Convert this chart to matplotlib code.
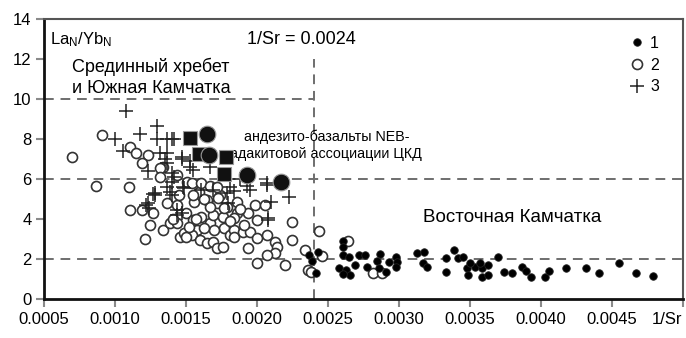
import matplotlib
matplotlib.use("Agg")
import matplotlib.pyplot as plt
from matplotlib.lines import Line2D

plt.rcParams['font.family'] = ['Liberation Sans', 'DejaVu Sans']
plt.rcParams['mathtext.fontset'] = 'custom'
plt.rcParams['mathtext.rm'] = 'Liberation Sans'
plt.rcParams['mathtext.it'] = 'Liberation Sans'

# 1 - Восточная Камчатка (мелкие залитые кружки)
g1_x = [0.00237, 0.00243, 0.00242, 0.00239, 0.00261, 0.00261, 0.00261, 0.00265, 0.00272,
        0.00276, 0.00269, 0.00258, 0.00263, 0.00266, 0.00261, 0.00278, 0.00287, 0.00285,
        0.00286, 0.00293, 0.00298, 0.00299, 0.00298, 0.00291, 0.00313, 0.00318, 0.00317,
        0.00320, 0.00333, 0.00333, 0.00339, 0.00342, 0.00345, 0.00348, 0.00349, 0.00354,
        0.00359, 0.00363, 0.00359, 0.00363, 0.00370, 0.00350, 0.00357, 0.00374, 0.00380,
        0.00387, 0.00390, 0.00393, 0.00403, 0.00406, 0.00418, 0.00432, 0.00441, 0.00455,
        0.00467, 0.00479]
g1_y = [2.2, 2.35, 1.3, 1.9, 2.9, 2.6, 2.2, 2.1, 2.2,
        2.2, 1.7, 1.55, 1.45, 1.2, 1.25, 1.6, 2.25, 1.9,
        1.55, 1.85, 2.1, 1.85, 1.6, 1.35, 2.3, 2.35, 1.8,
        1.6, 2.05, 1.35, 2.45, 2.05, 2.1, 1.55, 1.2, 1.6,
        1.55, 1.7, 1.1, 1.2, 2.1, 1.8, 1.8, 1.35, 1.3,
        1.6, 1.4, 1.1, 1.1, 1.4, 1.55, 1.55, 1.3, 1.8,
        1.3, 1.15]

# 2 - Срединный хребет (открытые кружки)
g2_x = [0.00091, 0.00070, 0.00111, 0.00115, 0.00123, 0.00119, 0.00134, 0.00087, 0.00110,
        0.00111, 0.00119, 0.00127, 0.00125, 0.00121, 0.00134, 0.00139, 0.00144, 0.00137,
        0.00144, 0.00132, 0.00132, 0.00144, 0.00151, 0.00146, 0.00149, 0.00150, 0.00154,
        0.00159, 0.00161, 0.00167, 0.00165, 0.00156, 0.00155, 0.00161, 0.00158, 0.00154,
        0.00150, 0.00160, 0.00167, 0.00169, 0.00172, 0.00174, 0.00172, 0.00176, 0.00177,
        0.00181, 0.00170, 0.00165, 0.00169, 0.00172, 0.00176, 0.00184, 0.00186, 0.00179,
        0.00155, 0.00167, 0.00173, 0.00184, 0.00194, 0.00199, 0.00206, 0.00186, 0.00200,
        0.00225, 0.00184, 0.00190, 0.00195, 0.00200, 0.00207, 0.00213, 0.00214, 0.00213,
        0.00207, 0.00194, 0.00200, 0.00220, 0.00225, 0.00244, 0.00236, 0.00238, 0.00246,
        0.00264, 0.00234, 0.00282, 0.00288, 0.00157, 0.00163, 0.00141, 0.00177, 0.00188,
        0.00152, 0.00145, 0.00163, 0.00181, 0.00191]
g2_y = [8.23, 7.13, 7.6, 7.3, 7.2, 6.8, 6.6, 5.65, 5.6,
        4.45, 4.45, 4.3, 3.7, 3.0, 3.45, 3.8, 3.8, 4.8,
        4.7, 6.55, 6.1, 6.2, 5.85, 3.1, 3.3, 4.3, 5.8,
        5.35, 5.8, 5.65, 4.95, 4.85, 3.95, 4.1, 3.45, 3.2,
        3.1, 2.95, 3.8, 4.2, 4.8, 5.2, 5.6, 4.1, 3.55,
        3.2, 3.45, 2.8, 2.85, 2.55, 2.6, 3.45, 4.3, 4.6,
        5.2, 4.6, 5.05, 4.05, 4.3, 4.7, 4.7, 4.85, 3.95,
        3.85, 3.1, 3.35, 3.35, 3.05, 3.2, 2.85, 2.6, 2.3,
        2.2, 2.55, 1.8, 1.7, 2.95, 3.4, 1.45, 1.35, 2.15,
        2.9, 2.45, 1.3, 1.3, 4.0, 3.55, 4.0, 4.55, 4.5,
        3.6, 5.2, 5.0, 3.9, 3.7]

# 3 - Южная Камчатка (крестики)
g3_x = [0.00108, 0.00100, 0.00118, 0.00130, 0.00130, 0.00137, 0.00142, 0.00106, 0.00137,
        0.00135, 0.00147, 0.00123, 0.00142, 0.00128, 0.00123, 0.00137, 0.00148, 0.00155,
        0.00140, 0.00132, 0.00147, 0.00153, 0.00140, 0.00153, 0.00167, 0.00181, 0.00193,
        0.00207, 0.00161, 0.00169, 0.00195, 0.00207, 0.00223, 0.00210, 0.00208, 0.00184,
        0.00180, 0.00149, 0.00128, 0.00124, 0.00139, 0.00144, 0.00137, 0.00140, 0.00127,
        0.00122, 0.00140, 0.00147, 0.00179, 0.00144, 0.00208, 0.00188]
g3_y = [9.4, 8.0, 8.25, 8.65, 8.0, 8.0, 8.0, 7.4, 7.3,
        7.0, 7.0, 6.4, 6.1, 5.3, 4.8, 5.6, 5.6, 6.45,
        8.0, 7.3, 7.1, 6.9, 6.3, 6.6, 6.6, 5.6, 5.65,
        5.7, 5.45, 5.45, 5.45, 5.8, 5.1, 4.85, 3.95, 5.4,
        4.8, 5.55, 5.2, 4.55, 5.35, 4.2, 6.8, 5.85, 5.25,
        4.7, 5.2, 4.3, 5.3, 4.45, 4.05, 6.0]

# андезито-базальты NEB-адакитовой ассоциации ЦКД
neb_circ_x = [0.001647, 0.00166, 0.00193, 0.00217]
neb_circ_y = [8.28, 7.22, 6.22, 5.85]
neb_sq_x = [0.001528, 0.00159, 0.00178, 0.00177]
neb_sq_y = [8.08, 7.25, 7.12, 6.27]

xticks = [0.0005, 0.0010, 0.0015, 0.0020, 0.0025, 0.0030, 0.0035, 0.0040, 0.0045, 0.0050]
xticklabels = ['0.0005', '0.0010', '0.0015', '0.0020', '0.0025', '0.0030', '0.0035',
               '0.0040', '0.0045', '1/Sr']
yticks = [0, 2, 4, 6, 8, 10, 12, 14]

fig = plt.figure(figsize=(6.86, 3.38), dpi=100)
ax = fig.add_axes([0.064, 0.115, 0.931, 0.828])
ax.set_xlim(0.0005, 0.0050)
ax.set_ylim(0, 14)

dash = dict(color='#6e6e6e', lw=1.4, linestyle=(0, (5, 3.5)), zorder=1)
ax.plot([0.0005, 0.0024], [10, 10], **dash)
ax.axhline(6, **dash)
ax.axhline(2, **dash)
ax.plot([0.0024, 0.0024], [0, 12], **dash)

ax.plot(g2_x, g2_y, 'o', ls='none', ms=7.2, mfc='white', mec='#333333', mew=1.2, zorder=2)
ax.plot(g3_x, g3_y, '+', ls='none', ms=9.5, mec='#222222', mew=1.1, zorder=3)
ax.plot(g1_x, g1_y, 'o', ls='none', ms=5.4, mfc='black', mec='#222222', mew=0.6, zorder=4)
ax.plot(neb_sq_x, neb_sq_y, 's', ls='none', ms=10.5, mfc='#111111', mec='#999999', mew=0.8, zorder=5)
ax.plot(neb_circ_x, neb_circ_y, 'o', ls='none', ms=12, mfc='#111111', mec='#999999', mew=0.8, zorder=6)

ax.set_xticks(xticks)
ax.set_xticklabels(xticklabels)
ax.get_xticklabels()[-1].set_horizontalalignment('right')
ax.set_yticks(yticks)
ax.tick_params(axis='both', direction='out', length=6, width=1.5, color='#8a8a8a',
               labelsize=12, pad=3)

for side in ['left', 'bottom']:
    ax.spines[side].set_linewidth(2)
    ax.spines[side].set_color('#111111')
for side in ['top', 'right']:
    ax.spines[side].set_linewidth(1.5)
    ax.spines[side].set_color('#555555')

ax.text(0.00054, 13.0, r'$\mathrm{La_N/Yb_N}$', fontsize=12, va='center', ha='left')
ax.text(0.00193, 13.0, '1/Sr = 0.0024', fontsize=13, va='center', ha='left')
ax.text(0.00070, 11.1, 'Срединный хребет\nи Южная Камчатка', fontsize=13,
        va='center', ha='left', linespacing=1.25)
ax.text(0.00249, 7.7, 'андезито-базальты NEB-\nадакитовой ассоциации ЦКД', fontsize=10.3,
        va='center', ha='center', multialignment='center', linespacing=1.2)
ax.text(0.00380, 4.1, 'Восточная Камчатка', fontsize=13.5, va='center', ha='center')

handles = [
    Line2D([], [], marker='o', ls='none', ms=5.4, mfc='black', mec='#222222', mew=0.6),
    Line2D([], [], marker='o', ls='none', ms=7.2, mfc='white', mec='#333333', mew=1.2),
    Line2D([], [], marker='+', ls='none', ms=9.5, mec='#222222', mew=1.1),
]
ax.legend(handles, ['1', '2', '3'], loc='upper right', bbox_to_anchor=(0.978, 0.975),
          frameon=False, fontsize=11.5, handlelength=1.0, handletextpad=0.3,
          labelspacing=0.42, borderaxespad=0.2)

fig.savefig('out.png', dpi=100)
